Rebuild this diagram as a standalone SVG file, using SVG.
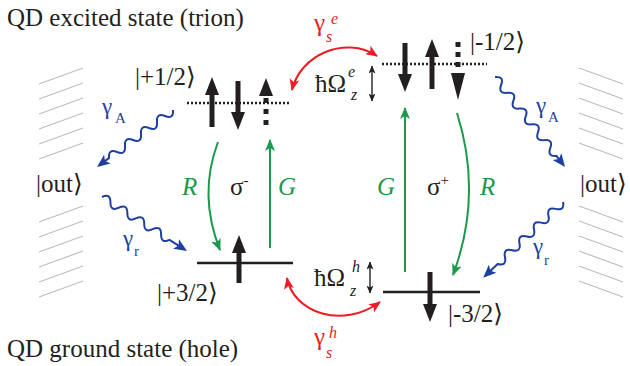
<svg xmlns="http://www.w3.org/2000/svg" width="630" height="366" viewBox="0 0 630 366">
<style>
text{font-family:"Liberation Serif","DejaVu Serif",serif;fill:#231f20}
.t{font-size:25px}
.k{font-size:25px}
.sub{font-size:16px;font-style:italic}
.it{font-style:italic}
.g{fill:#1a9a4a}
.b{fill:#1f3f9f}
.r{fill:#ec1c24}
.hatch line{stroke:#bdbdbd;stroke-width:1.2}
.dot{stroke:#231f20;stroke-width:2.5;stroke-dasharray:2,2;fill:none}
.lvl{stroke:#231f20;stroke-width:2.5}
.spin{fill:#231f20}
.gl{stroke:#1a9a4a;stroke-width:2;fill:none}
.rl{stroke:#ec1c24;stroke-width:2;fill:none}
.wv{stroke:#1f3f9f;stroke-width:2;fill:none}
.wh{fill:#1f3f9f}
.dbl{stroke:#231f20;stroke-width:1.4;fill:none}
</style>
<defs>
<marker id="gh" viewBox="0 0 12 10" refX="11" refY="5" markerWidth="12" markerHeight="10" markerUnits="userSpaceOnUse" orient="auto"><path d="M0,0 L12,5 L0,10 L3,5 Z" fill="#1a9a4a"/></marker>
<marker id="rh" viewBox="0 0 12 10" refX="11" refY="5" markerWidth="12" markerHeight="10" markerUnits="userSpaceOnUse" orient="auto-start-reverse"><path d="M0,0 L12,5 L0,10 L3,5 Z" fill="#ec1c24"/></marker>
<marker id="kh" viewBox="0 0 8 7" refX="7.5" refY="3.5" markerWidth="8" markerHeight="7" markerUnits="userSpaceOnUse" orient="auto-start-reverse"><path d="M0,0 L8,3.5 L0,7 L2,3.5 Z" fill="#231f20"/></marker>
</defs>

<g id="hatch-left" class="hatch">
<line x1="39" y1="84" x2="83" y2="68"/><line x1="39" y1="99" x2="83" y2="83"/><line x1="39" y1="114" x2="83" y2="98"/><line x1="39" y1="129" x2="83" y2="113"/><line x1="39" y1="144" x2="83" y2="128"/><line x1="39" y1="159" x2="83" y2="143"/>
<line x1="39" y1="222" x2="83" y2="206"/><line x1="39" y1="237" x2="83" y2="221"/><line x1="39" y1="252" x2="83" y2="236"/><line x1="39" y1="267" x2="83" y2="251"/><line x1="39" y1="282" x2="83" y2="266"/><line x1="39" y1="297" x2="83" y2="281"/>
</g>
<g id="hatch-right" class="hatch">
<line x1="579" y1="68" x2="623" y2="84"/><line x1="579" y1="83" x2="623" y2="99"/><line x1="579" y1="98" x2="623" y2="114"/><line x1="579" y1="113" x2="623" y2="129"/><line x1="579" y1="128" x2="623" y2="144"/><line x1="579" y1="143" x2="623" y2="159"/>
<line x1="579" y1="206" x2="623" y2="222"/><line x1="579" y1="221" x2="623" y2="237"/><line x1="579" y1="236" x2="623" y2="252"/><line x1="579" y1="251" x2="623" y2="267"/><line x1="579" y1="266" x2="623" y2="282"/><line x1="579" y1="281" x2="623" y2="297"/>
</g>

<g id="titles">
<text class="t" x="7" y="26">QD excited state (trion)</text>
<text class="t" x="7" y="357">QD ground state (hole)</text>
</g>

<g id="out-left"><text class="t" x="36" y="192">|out⟩</text></g>
<g id="out-right"><text class="t" x="580" y="192">|out⟩</text></g>

<g id="trion-plus">
<line class="dot" x1="187" y1="103" x2="290" y2="103"/>
<polygon class="spin" points="212,77 219,95 214.5,95 214.5,127 209.5,127 209.5,95 205,95"/>
<polygon class="spin" points="238,130 245,112 240.5,112 240.5,81 235.5,81 235.5,112 231,112"/>
<polygon class="spin" points="266,78 273,96 259,96"/>
<line x1="266" y1="98" x2="266" y2="128" stroke="#231f20" stroke-width="5" stroke-dasharray="5,6"/>
<text class="k" x="135" y="85">|+1/2⟩</text>
</g>

<g id="trion-minus">
<line class="dot" x1="382" y1="64" x2="487" y2="64"/>
<polygon class="spin" points="405,92 412,74 407.5,74 407.5,43 402.5,43 402.5,74 398,74"/>
<polygon class="spin" points="432,39 439,57 434.5,57 434.5,89 429.5,89 429.5,57 425,57"/>
<polygon class="spin" points="458,100 465,73 451,73"/>
<line x1="458" y1="42" x2="458" y2="72" stroke="#231f20" stroke-width="5" stroke-dasharray="5,5"/>
<text class="k" x="470" y="50">|-1/2⟩</text>
</g>

<g id="hole-plus">
<line class="lvl" x1="197" y1="263" x2="293" y2="263"/>
<polygon class="spin" points="239,235 246,253 241.5,253 241.5,283 236.5,283 236.5,253 232,253"/>
<text class="k" x="157" y="301">|+3/2⟩</text>
</g>

<g id="hole-minus">
<line class="lvl" x1="383" y1="292" x2="480" y2="292"/>
<polygon class="spin" points="430,322 437,304 432.5,304 432.5,272 427.5,272 427.5,304 423,304"/>
<text class="k" x="448" y="322">|-3/2⟩</text>
</g>

<g id="zeeman-e">
<text class="k" x="315" y="92">ħΩ</text>
<text class="sub" x="348" y="77">e</text>
<text class="sub" x="351" y="100">z</text>
<line class="dbl" x1="372" y1="66" x2="372" y2="101" marker-start="url(#kh)" marker-end="url(#kh)"/>
</g>
<g id="zeeman-h">
<text class="k" x="314" y="286">ħΩ</text>
<text class="sub" x="352" y="272">h</text>
<text class="sub" x="350" y="296">z</text>
<line class="dbl" x1="370" y1="262" x2="370" y2="293" marker-start="url(#kh)" marker-end="url(#kh)"/>
</g>

<g id="connectors">
<path class="gl" d="M218,142 Q198,195 220,250" marker-end="url(#gh)"/>
<path class="gl" d="M270,248 L270,140" marker-end="url(#gh)"/>
<path class="gl" d="M405,272 L405,108" marker-end="url(#gh)"/>
<path class="gl" d="M457,113 Q483,195 453,275" marker-end="url(#gh)"/>
<path class="rl" d="M292,90 C300,55 345,35 377,56" marker-start="url(#rh)" marker-end="url(#rh)"/>
<path class="rl" d="M287,278 C293,312 342,330 380,302" marker-start="url(#rh)" marker-end="url(#rh)"/>
<g transform="translate(173,110) rotate(143.13)"><path class="wv" d="M0,0 q5,-8 10,0 t10,0 t10,0 t10,0 t10,0 t10,0 t10,0 t10,0 L86,0"/><polygon class="wh" points="95,0 82,-5.5 85,0 82,5.5"/></g>
<g transform="translate(102,197) rotate(32.4)"><path class="wv" d="M0,0 q5,-8 10,0 t10,0 t10,0 t10,0 t10,0 t10,0 t10,0 t10,0 L92,0"/><polygon class="wh" points="100.7,0 87.7,-5.5 90.7,0 87.7,5.5"/></g>
<g transform="translate(495,77) rotate(52.1)"><path class="wv" d="M0,0 q5,-8 10,0 t10,0 t10,0 t10,0 t10,0 t10,0 t10,0 t10,0 t10,0 t10,0 L105,0"/><polygon class="wh" points="114,0 101,-5.5 104,0 101,5.5"/></g>
<g transform="translate(563,202) rotate(136.5)"><path class="wv" d="M0,0 q5,-8 10,0 t10,0 t10,0 t10,0 t10,0 t10,0 t10,0 t10,0 t10,0 L101,0"/><polygon class="wh" points="110,0 97,-5.5 100,0 97,5.5"/></g>
</g>

<g id="labels">
<text class="k it g" x="182" y="195">R</text>
<text class="k it g" x="278" y="195">G</text>
<text class="k it g" x="377" y="195">G</text>
<text class="k it g" x="480" y="195">R</text>
<text class="t" x="230" y="195">σ<tspan font-size="15" dy="-10">-</tspan></text>
<text class="t" x="427" y="195">σ<tspan font-size="15" dy="-10">+</tspan></text>
<text class="b" font-size="23" x="102" y="114">γ</text><text class="b" font-size="15" x="115" y="123">A</text>
<text class="b" font-size="23" x="123" y="246">γ</text><text class="b" font-size="15" x="134" y="256">r</text>
<text class="b" font-size="23" x="536" y="113">γ</text><text class="b" font-size="15" x="548" y="122">A</text>
<text class="b" font-size="23" x="533" y="254">γ</text><text class="b" font-size="15" x="544" y="265">r</text>
<text class="r" font-size="25" x="314" y="31">γ</text><text class="r sub" x="326" y="42">s</text><text class="r sub" x="331" y="24">e</text>
<text class="r" font-size="25" x="314" y="345">γ</text><text class="r sub" x="326" y="358">s</text><text class="r sub" x="329" y="338">h</text>
</g>
</svg>
